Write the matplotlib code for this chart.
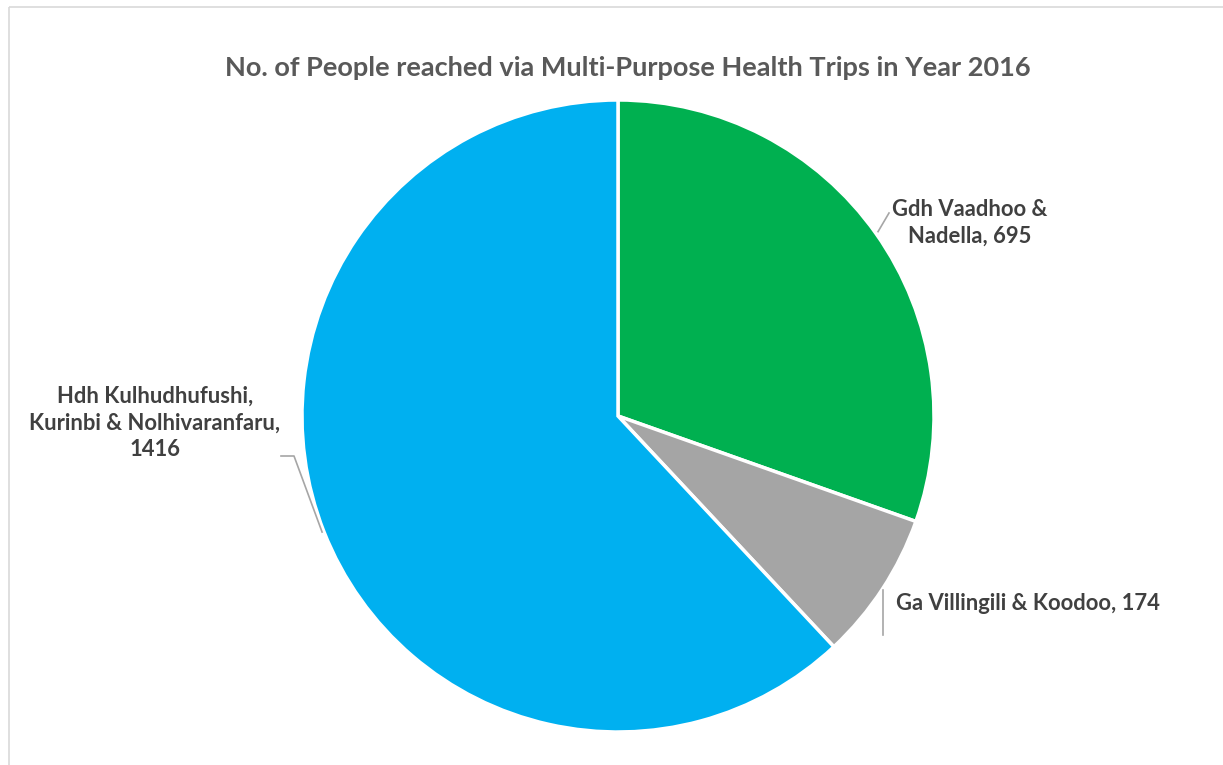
import numpy as np
import matplotlib
matplotlib.use("Agg")
import matplotlib.pyplot as plt
from matplotlib.patches import Rectangle

plt.rcParams['font.family'] = ['Lato', 'DejaVu Sans']

# Data
sites = ["Gdh Vaadhoo &\nNadella", "Ga Villingili & Koodoo", "Hdh Kulhudhufushi,\nKurinbi & Nolhivaranfaru,"]
people = [695, 174, 1416]
colors = ["#00B050", "#A5A5A5", "#00B0F0"]

W, H = 1223, 765
fig = plt.figure(figsize=(W / 100, H / 100), dpi=100)
ax = fig.add_axes([0, 0, 1, 1])

# chart area outline
ax.add_patch(Rectangle((9, 7), W + 20, H + 20, fill=False, edgecolor="#D9D9D9", lw=1.2))

cx, cy, r = 618, 416, 316
# y axis points down, so the pie is drawn counter-clockwise in data terms
wedges, _ = ax.pie(people, colors=colors, startangle=-90, counterclock=True,
                   center=(cx, cy), radius=r, frame=True,
                   wedgeprops=dict(edgecolor="white", linewidth=2.5))
ax.set_xlim(0, W)
ax.set_ylim(H, 0)
ax.set_aspect("equal")
ax.axis("off")

ax.text(628, 68, "No. of People reached via Multi-Purpose Health Trips in Year 2016",
        ha="center", va="center", fontsize=19.5, fontweight="bold", color="#595959")

# midpoint angle of each slice (clockwise from 12 o'clock)
total = sum(people)
cum = np.cumsum([0] + people)
mids = [90 - (cum[i] + people[i] / 2) / total * 360 for i in range(len(people))]
edge = [(cx + r * np.cos(np.radians(a)), cy - r * np.sin(np.radians(a))) for a in mids]

lc = "#A6A6A6"
fs = 15.8
# Gdh label
x0, y0 = edge[0]
ax.plot([x0 + 2, 889], [y0 - 2, 213], color=lc, lw=1.2)
ax.text(970, 223, f"{sites[0]}, {people[0]}", ha="center", va="center",
        fontsize=fs, fontweight="bold", color="#404040", linespacing=1.33)
# Ga label
x1, y1 = edge[1]
ax.plot([883, 883], [y1 + 1, 635], color=lc, lw=1.2)
ax.text(896, 603, f"{sites[1]}, {people[1]}", ha="left", va="center",
        fontsize=fs, fontweight="bold", color="#404040")
# Hdh label
x2, y2 = edge[2]
ax.plot([x2 - 2, 294, 281], [y2, 456, 456], color=lc, lw=1.2)
ax.text(155, 423, f"{sites[2]}\n{people[2]}", ha="center", va="center",
        fontsize=fs, fontweight="bold", color="#404040", linespacing=1.33)

fig.savefig("out.png", dpi=100)
